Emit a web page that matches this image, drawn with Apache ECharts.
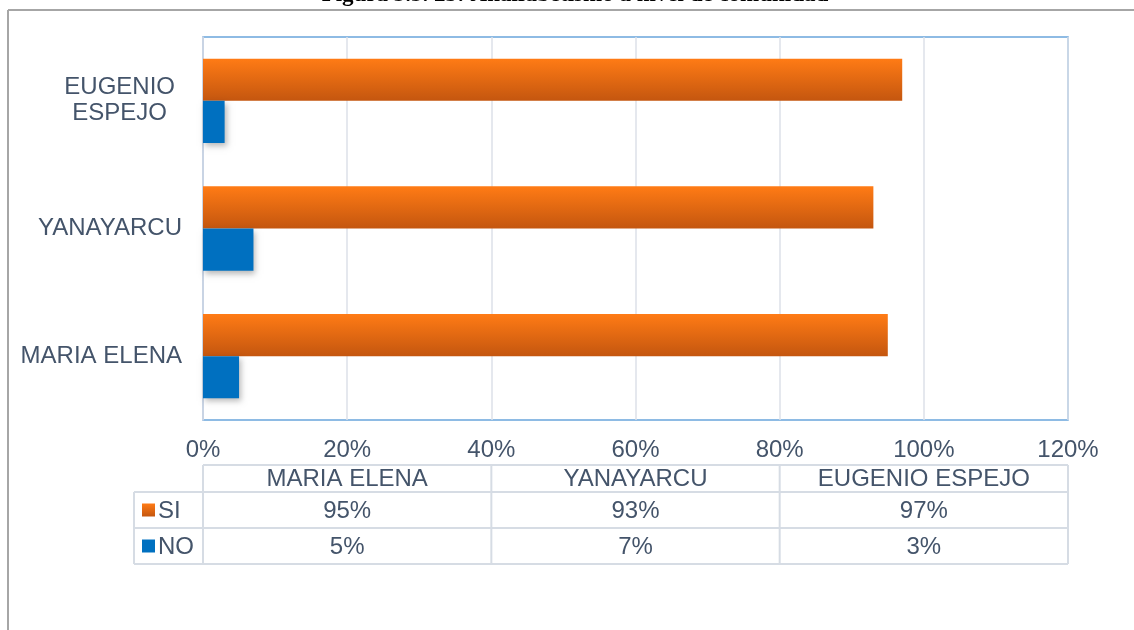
<!DOCTYPE html>
<html>
<head>
<meta charset="utf-8">
<script src="https://cdn.jsdelivr.net/npm/echarts@6/dist/echarts.min.js"></script>
<style>
html,body{margin:0;padding:0;background:#fff;}
#c{width:1134px;height:630px;}
</style>
</head>
<body>
<div id="c"></div>
<script>
var titleText = 'Figura 3.3. 25: Analfabetismo a nivel de comunidad';
var categories = ['MARIA ELENA', 'YANAYARCU', 'EUGENIO ESPEJO'];
var seriesNames = ['SI', 'NO'];
var siValues = [95, 93, 97];
var noValues = [5, 7, 3];
var xTicks = {min: 0, max: 120, interval: 20};

var FONT = '"Liberation Sans", Arial, sans-serif';
var FS = 24;
var TXT = '#44546A';
function orangeGrad() {
  return new echarts.graphic.LinearGradient(0, 0, 0, 1, [
    {offset: 0, color: '#FF7B15'}, {offset: 1, color: '#C4560F'}
  ]);
}
var blueColor = '#0070C0';

var chart = echarts.init(document.getElementById('c'), null, {renderer: 'canvas'});
var option = {
  animation: false,
  backgroundColor: '#fff',
  grid: {left: 203, top: 37, right: 66, bottom: 210, show: true,
         borderColor: '#6AA5DC', borderWidth: 1.5, backgroundColor: 'transparent'},
  xAxis: {
    type: 'value', min: xTicks.min, max: xTicks.max, interval: xTicks.interval,
    axisLine: {show: false}, axisTick: {show: false},
    splitLine: {show: true, lineStyle: {color: '#DCE1E9', width: 1.5}},
    axisLabel: {formatter: '{value}%', color: TXT, fontFamily: FONT, fontSize: FS, margin: 18}
  },
  yAxis: {
    type: 'category', data: categories,
    axisLine: {show: true, lineStyle: {color: '#C8D3E3', width: 1.5}},
    axisTick: {show: false},
    axisLabel: {
      color: TXT, fontFamily: FONT, fontSize: FS, margin: 21, lineHeight: 26,
      formatter: function (v) {
        if (v.length > 12) {
          return v.split(' ').map(function (w) { return '{c|' + w + '}'; }).join('\n');
        }
        return v;
      },
      rich: {c: {align: 'center', color: TXT, fontFamily: FONT, fontSize: FS, lineHeight: 26, padding: [0, 7, 0, 0]}}
    }
  },
  series: [
    {name: seriesNames[0], type: 'bar', data: siValues, barGap: '0%', barCategoryGap: '34%',
     itemStyle: {color: orangeGrad(), shadowColor: 'rgba(0,0,0,0.28)', shadowBlur: 6, shadowOffsetX: 2, shadowOffsetY: 3}},
    {name: seriesNames[1], type: 'bar', data: noValues, barGap: '0%', barCategoryGap: '34%',
     itemStyle: {color: blueColor, shadowColor: 'rgba(0,0,0,0.28)', shadowBlur: 6, shadowOffsetX: 2, shadowOffsetY: 3}}
  ]
};
chart.setOption(option);

function buildGraphics() {
  var x0 = chart.convertToPixel({xAxisIndex: 0}, xTicks.min);
  var x1 = chart.convertToPixel({xAxisIndex: 0}, xTicks.max);
  var n = categories.length;
  var colW = (x1 - x0) / n;
  var rows = [465, 492, 528, 564]; // header top, SI top, NO top, bottom
  var legLeft = 134;
  var lineCol = '#D6DCE4';
  var els = [];
  // outer frame
  els.push({type: 'line', shape: {x1: 8, y1: 10, x2: 1134, y2: 10}, style: {stroke: '#A6A6A6', lineWidth: 2}, silent: true});
  els.push({type: 'line', shape: {x1: 8, y1: 10, x2: 8, y2: 630}, style: {stroke: '#A6A6A6', lineWidth: 2}, silent: true});
  // title (clipped at top)
  els.push({type: 'text', x: 575, y: -5, style: {text: titleText, font: 'bold 23px "Liberation Serif", "Times New Roman", serif', fill: '#000', align: 'center', verticalAlign: 'middle'}, silent: true});
  // table horizontal lines
  els.push({type: 'line', shape: {x1: x0, y1: rows[0], x2: x1, y2: rows[0]}, style: {stroke: lineCol, lineWidth: 2}});
  for (var r = 1; r < rows.length; r++) {
    els.push({type: 'line', shape: {x1: legLeft, y1: rows[r], x2: x1, y2: rows[r]}, style: {stroke: lineCol, lineWidth: 2}});
  }
  // vertical lines
  for (var c = 0; c <= n; c++) {
    var xx = x0 + c * colW;
    els.push({type: 'line', shape: {x1: xx, y1: rows[0], x2: xx, y2: rows[3]}, style: {stroke: lineCol, lineWidth: 2}});
  }
  els.push({type: 'line', shape: {x1: legLeft, y1: rows[1], x2: legLeft, y2: rows[3]}, style: {stroke: lineCol, lineWidth: 2}});
  var fontT = FS + 'px ' + FONT;
  for (var i = 0; i < n; i++) {
    var cx = x0 + (i + 0.5) * colW;
    els.push({type: 'text', x: cx, y: (rows[0] + rows[1]) / 2 + 1, style: {text: categories[i], font: fontT, fill: TXT, align: 'center', verticalAlign: 'middle'}});
    els.push({type: 'text', x: cx, y: (rows[1] + rows[2]) / 2 + 1, style: {text: siValues[i] + '%', font: fontT, fill: TXT, align: 'center', verticalAlign: 'middle'}});
    els.push({type: 'text', x: cx, y: (rows[2] + rows[3]) / 2 + 1, style: {text: noValues[i] + '%', font: fontT, fill: TXT, align: 'center', verticalAlign: 'middle'}});
  }
  // legend keys
  for (var s = 0; s < 2; s++) {
    var cy = (rows[s + 1] + rows[s + 2]) / 2;
    els.push({type: 'rect', shape: {x: 142, y: cy - 6.5, width: 13, height: 13}, style: {fill: s === 0 ? orangeGrad() : blueColor}});
    els.push({type: 'text', x: 158, y: cy + 1, style: {text: seriesNames[s], font: fontT, fill: TXT, align: 'left', verticalAlign: 'middle'}});
  }
  chart.setOption({graphic: els});
}
buildGraphics();
</script>
</body>
</html>
